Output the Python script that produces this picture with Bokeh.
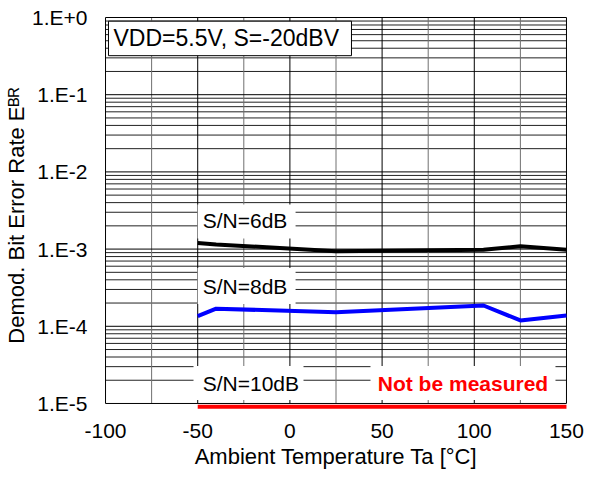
from bokeh.plotting import figure
from bokeh.models import Range1d, FixedTicker, CustomJSTickFormatter, Label
from bokeh.embed import file_html
from bokeh.resources import INLINE

# ---------------- data ----------------
temp_6db = [-50, -40, 25, 105, 125, 150]
ber_6db = [1.2e-3, 1.15e-3, 9.4e-4, 9.8e-4, 1.09e-3, 9.8e-4]
temp_8db = [-50, -40, 25, 105, 125, 150]
ber_8db = [1.35e-4, 1.69e-4, 1.52e-4, 1.86e-4, 1.19e-4, 1.38e-4]
temp_10db = [-50, 150]
ber_10db = [9.1e-6, 9.1e-6]

x_ticks = [-100, -50, 0, 50, 100, 150]
x_labels = ["-100", "-50", "0", "50", "100", "150"]
x_minor = [-75, -25, 25, 75, 125]
y_ticks = [1e-5, 1e-4, 1e-3, 1e-2, 1e-1, 1e0]
y_labels = ["1.E-5", "1.E-4", "1.E-3", "1.E-2", "1.E-1", "1.E+0"]

FONT = "Liberation Sans"

p = figure(width=590, height=483, y_axis_type="log",
           x_range=Range1d(-101.1, 151.1),
           y_range=Range1d(10 ** -5.078, 10 ** 0.026),
           output_backend="svg", toolbar_location=None,
           min_border_left=103, min_border_right=22,
           min_border_top=15, min_border_bottom=74)
p.outline_line_color = None
p.xgrid.visible = False
p.ygrid.visible = False
p.background_fill_color = "white"
p.border_fill_color = "white"

x_lo, x_hi = x_ticks[0], x_ticks[-1]
y_lo, y_hi = y_ticks[0], y_ticks[-1]

# minor horizontal grid lines (2..9 per decade)
y_minor = [m * d for d in y_ticks[:-1] for m in range(2, 10)]
p.segment(x0=[x_lo] * len(y_minor), x1=[x_hi] * len(y_minor), y0=y_minor, y1=y_minor,
          line_color="#222222", line_width=1)
# vertical minor (gray) lines
p.segment(x0=x_minor, x1=x_minor, y0=[y_lo] * len(x_minor), y1=[y_hi] * len(x_minor),
          line_color="#707070", line_width=1)
# vertical major lines (includes frame sides)
p.segment(x0=x_ticks, x1=x_ticks, y0=[y_lo] * len(x_ticks), y1=[y_hi] * len(x_ticks),
          line_color="black", line_width=1)
# decade lines (includes frame top/bottom)
p.segment(x0=[x_lo] * len(y_ticks), x1=[x_hi] * len(y_ticks), y0=y_ticks, y1=y_ticks,
          line_color="black", line_width=1)

# data lines
p.line(temp_6db, ber_6db, line_color="black", line_width=4)
p.line(temp_8db, ber_8db, line_color="#0000ff", line_width=4)
p.line(temp_10db, ber_10db, line_color="#ff0000", line_width=4)

# white backgrounds behind the in-plot labels
p.rect(x=[-23.5, -23.5, -22.45, 93.87],
       y=[10 ** -2.642, 10 ** -3.478, 10 ** -4.734, 10 ** -4.734],
       width=[98, 98, 110, 185], height=[34, 36, 34, 34],
       width_units="screen", height_units="screen",
       fill_color="white", line_color=None)
# condition box
p.rect(x=[-32.5], y=[10 ** -0.271], width=[243], height=[34.5],
       width_units="screen", height_units="screen",
       fill_color="white", line_color="black", line_width=1)

def add_label(x, y, text, size, align="left", color="black", bold=False):
    p.add_layout(Label(x=x, y=y, text=text, text_font=FONT,
                       text_font_size=f"{size}px", text_color=color,
                       text_font_style="bold" if bold else "normal",
                       text_align=align, text_baseline="middle"))

add_label(-95.66, 10 ** -0.271, "VDD=5.5V, S=-20dBV", 23)
add_label(-47.3, 10 ** -2.626, "S/N=6dB", 21)
add_label(-47.3, 10 ** -3.482, "S/N=8dB", 21)
add_label(-47.3, 10 ** -4.737, "S/N=10dB", 21)
add_label(93.87, 10 ** -4.737, "Not be measured", 21, align="center", color="#ff0000", bold=True)

# axes
p.xaxis.ticker = FixedTicker(ticks=x_ticks, minor_ticks=[])
p.yaxis.ticker = FixedTicker(ticks=y_ticks, minor_ticks=[])
label_code = """
    for (let i = 0; i < tv.length; i++) {
        if (Math.abs(tv[i] - tick) <= 1e-9 * Math.abs(tv[i])) return tl[i];
    }
    return "";
"""
p.xaxis.formatter = CustomJSTickFormatter(args=dict(tv=x_ticks, tl=x_labels), code=label_code)
p.yaxis.formatter = CustomJSTickFormatter(args=dict(tv=y_ticks, tl=y_labels), code=label_code)
for ax in (p.xaxis[0], p.yaxis[0]):
    ax.axis_line_color = None
    ax.major_tick_line_color = None
    ax.minor_tick_line_color = None
    ax.major_tick_out = 0
    ax.major_tick_in = 0
    ax.major_label_text_font = FONT
    ax.major_label_text_font_size = "21px"
    ax.major_label_text_color = "black"
    ax.axis_label_text_font = FONT
    ax.axis_label_text_font_size = "22px"
    ax.axis_label_text_font_style = "normal"
    ax.axis_label_text_color = "black"
p.xaxis.major_label_standoff = 14
p.yaxis.major_label_standoff = 16
p.xaxis.axis_label = "Ambient Temperature Ta [°C]"
p.xaxis.axis_label_standoff = 3
p.yaxis.axis_label = "Demod. Bit Error Rate  E\u1d2e\u1d3f"
p.yaxis.axis_label_standoff = 0

open("out.html", "w").write(file_html(p, INLINE))
